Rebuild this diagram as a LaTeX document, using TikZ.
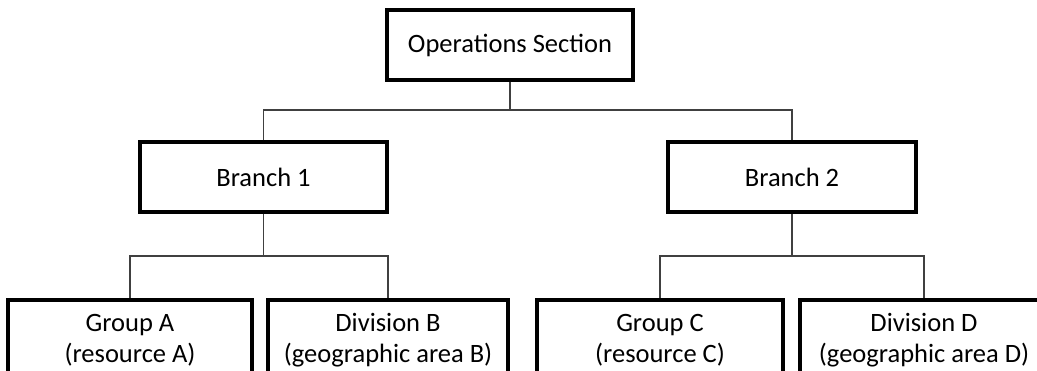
\documentclass[tikz,border=0pt]{standalone}
\usepackage{fontspec}
\setmainfont{Carlito}
\begin{document}
\begin{tikzpicture}[x=1pt,y=-1pt,
  unit/.style={draw=black, line width=3.1pt, fill=white, inner sep=0pt,
    minimum height=70pt, align=center, font=\fontsize{26.5}{31}\selectfont},
  leaf/.style={unit, minimum height=80pt},
  link/.style={draw=black!75, line width=1.1pt}]
  \useasboundingbox (0,0) rectangle (1037,370);
  \clip (0,0) rectangle (1037,370);

  % top level
  \node[unit, minimum width=246pt] (ops) at (510,45) {Operations Section};

  % branches
  \node[unit, minimum width=247pt] (b1) at (263.5,177) {Branch 1};
  \node[unit, minimum width=248pt] (b2) at (792,177) {Branch 2};

  % groups and divisions
  \node[leaf, minimum width=244pt] (gA) at (130,340) {Group A\\(resource A)};
  \node[leaf, minimum width=240pt] (dB) at (388,340) {Division B\\(geographic area B)};
  \node[leaf, minimum width=246pt] (gC) at (660,340) {Group C\\(resource C)};
  \node[leaf, minimum width=248pt] (dD) at (924,340) {Division D\\(geographic area D)};

  % junctions of the tree lines
  \coordinate (j0) at (510,110);
  \coordinate (j1) at (263.5,256);
  \coordinate (j2) at (792,256);

  \draw[link] (ops.south) -- (j0);
  \draw[link] (b1.north) |- (j0) -| (b2.north);
  \draw[link] (b1.south) -- (j1);
  \draw[link] (gA.north) |- (j1) -| (dB.north);
  \draw[link] (b2.south) -- (j2);
  \draw[link] (gC.north) |- (j2) -| (dD.north);
\end{tikzpicture}
\end{document}
